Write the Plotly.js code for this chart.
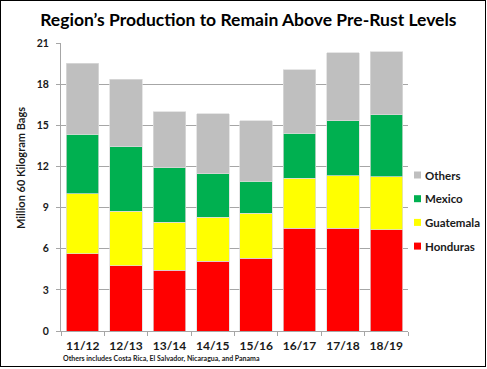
<!DOCTYPE html>
<html>
<head>
<meta charset="utf-8">
<script src="https://cdn.plot.ly/plotly-3.0.1.min.js"></script>
<style>
html,body{margin:0;padding:0;background:#fff;}
#frame{position:absolute;left:0;top:0;width:484px;height:365px;border:1.5px solid #000;}
#chart{position:absolute;left:0;top:0;width:487px;height:369px;}
</style>
</head>
<body>
<div id="frame"></div>
<div id="chart"></div>
<script>
const categories = ["11/12","12/13","13/14","14/15","15/16","16/17","17/18","18/19"];
const honduras  = [5.62, 4.74, 4.43, 5.10, 5.30, 7.51, 7.51, 7.37];
const guatemala = [4.40, 4.01, 3.50, 3.19, 3.30, 3.63, 3.80, 3.88];
const mexico    = [4.33, 4.67, 3.96, 3.18, 2.32, 3.28, 4.01, 4.53];
const others    = [5.18, 4.94, 4.08, 4.38, 4.40, 4.62, 4.98, 4.59];
const yTicks = [0, 3, 6, 9, 12, 15, 18, 21];

const FONT = "Lato, 'Open Sans', sans-serif";
const W = 487, H = 369, M = {l: 61, r: 79, t: 43, b: 38};
const PW = W - M.l - M.r, PH = H - M.t - M.b;
const px = v => (v - M.l) / PW;      // pixel x -> paper x
const py = v => (H - M.b - v) / PH;  // pixel y -> paper y

const series = [
  ["Honduras", honduras, "#ff0000"],
  ["Guatemala", guatemala, "#ffff00"],
  ["Mexico", mexico, "#00b050"],
  ["Others", others, "#bfbfbf"]
];
const data = series.map(([name, y, color]) => ({
  type: "bar", name: name, x: categories, y: y, showlegend: false,
  marker: {color: color, line: {color: "rgba(220,220,220,0.9)", width: 0.8}}
}));

// manual legend (top to bottom: Others, Mexico, Guatemala, Honduras)
const shapes = [], annotations = [];
series.slice().reverse().forEach(([name, y, color], i) => {
  const cy = 175 + i * 23.7;
  shapes.push({type: "rect", xref: "paper", yref: "paper",
    x0: px(414), x1: px(421), y0: py(cy + 3.5), y1: py(cy - 3.5),
    fillcolor: color, line: {width: 0}});
  annotations.push({text: "<b>" + name + "</b>", showarrow: false,
    xref: "paper", yref: "paper", x: px(423), y: py(cy), xanchor: "left", yanchor: "middle",
    font: {family: FONT, size: 11.5, color: "#1a1a1a"}});
});
annotations.push(
  {text: "<b>Million 60 Kilogram Bags</b>", textangle: -90, showarrow: false,
    xref: "paper", yref: "paper", x: px(20), y: py(168), xanchor: "center", yanchor: "middle",
    font: {family: FONT, size: 11, color: "#1a1a1a"}},
  {text: "<b>Others includes Costa Rica, El Salvador, Nicaragua, and Panama</b>", showarrow: false,
    xref: "paper", yref: "paper", x: px(61), y: py(358), xanchor: "left", yanchor: "middle",
    font: {family: FONT, size: 7, color: "#1a1a1a"}}
);

const layout = {
  width: W, height: H,
  paper_bgcolor: "rgba(0,0,0,0)", plot_bgcolor: "#fff",
  margin: Object.assign({autoexpand: false}, M),
  barmode: "stack", bargap: 0.25, showlegend: false,
  font: {family: FONT, color: "#1a1a1a"},
  title: {text: "<b>Region’s Production to Remain Above Pre-Rust Levels</b>",
    font: {family: FONT, size: 17.5, color: "#000"},
    x: 0.51, xanchor: "center", y: 0.946, yanchor: "middle", yref: "container"},
  xaxis: {type: "category", showline: true, linecolor: "#a6a6a6", linewidth: 1,
    ticks: "outside", tickson: "boundaries", ticklen: 4, tickcolor: "#a6a6a6",
    tickangle: 0, ticklabelstandoff: 4,
    tickfont: {family: FONT, size: 12, color: "#1a1a1a", weight: "bold"},
    showgrid: false},
  yaxis: {range: [0, 21], tickvals: yTicks, ticktext: yTicks.map(String),
    showline: true, linecolor: "#a6a6a6", linewidth: 1,
    ticks: "outside", ticklen: 4, tickcolor: "#a6a6a6", ticklabelstandoff: 5,
    gridcolor: "#a6a6a6", gridwidth: 1, zeroline: false,
    tickfont: {family: FONT, size: 10.5, color: "#1a1a1a", weight: "bold"}},
  shapes: shapes,
  annotations: annotations
};
Plotly.newPlot("chart", data, layout, {displayModeBar: false, staticPlot: true});
</script>
</body>
</html>
